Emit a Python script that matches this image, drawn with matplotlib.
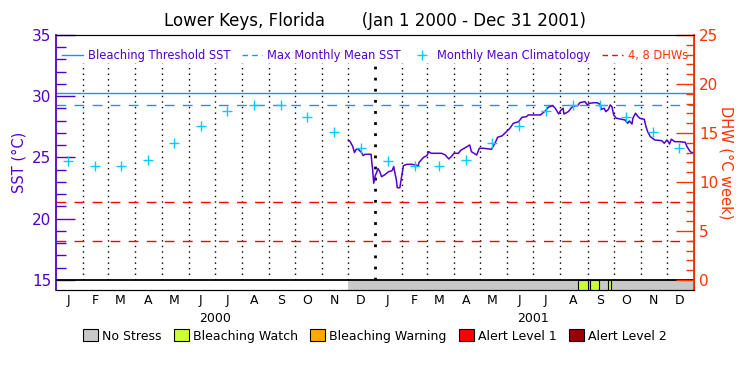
import numpy as np
import pandas as pd
import matplotlib
matplotlib.use("Agg")
import matplotlib.pyplot as plt
from matplotlib.lines import Line2D
from matplotlib.patches import Patch

# Data
month_letters = ["J", "F", "M", "A", "M", "J", "J", "A", "S", "O", "N", "D"]
years = ["2000", "2001"]
clim_monthly = [24.75, 24.28, 24.28, 24.83, 26.22, 27.6, 28.78, 29.3, 29.3, 28.3, 27.05, 25.77]
mmm_sst = 29.25
threshold_sst = 30.25
dhw_levels = [4, 8]

# SST series: days since 2000-01-01, value in deg C
sst_days = [335, 337, 340, 342, 344, 346, 350, 352, 354, 361, 362, 363, 364, 366, 367,
            369, 371, 373, 377, 381, 385, 387, 388, 390, 391, 394, 395, 397, 398, 402,
            408, 415, 416, 421, 425, 427, 430, 442, 446, 450, 453, 456, 461, 464, 469,
            474, 476, 479, 482, 485, 490, 499, 503, 506, 511, 516, 520, 524, 530, 534,
            539, 541, 555, 561, 564, 569, 572, 576, 578, 581, 582, 587, 591, 595, 598,
            600, 606, 609, 611, 616, 620, 623, 625, 628, 630, 633, 635, 637, 639, 642,
            648, 652, 655, 657, 660, 661, 664, 667, 669, 674, 676, 678, 681, 686, 694,
            697, 700, 703, 705, 709, 714, 721, 723, 726, 728, 731]
sst_vals = [26.43, 26.3, 25.9, 25.4, 25.67, 25.7, 25.4, 25.15, 25.26, 25.26, 24.5, 23.84,
            22.9, 23.57, 23.7, 24.1, 23.84, 23.43, 23.6, 23.84, 23.92, 24.25, 23.84, 23.16,
            22.53, 22.53, 23.02, 23.84, 24.33, 24.44, 24.44, 24.33, 24.6, 25.0, 25.15, 25.47,
            25.34, 25.34, 25.2, 24.88, 25.07, 25.34, 25.34, 25.6, 25.8, 26.02, 25.47, 25.34,
            25.2, 25.75, 25.75, 25.67, 26.16, 26.65, 26.76, 27.1, 27.38, 27.79, 27.92, 28.28,
            28.33, 28.47, 28.47, 28.82, 29.1, 29.23, 29.02, 28.55, 28.82, 29.02, 28.55, 28.74,
            29.1, 29.23, 29.23, 29.47, 29.56, 29.29, 29.42, 29.47, 29.47, 29.37, 28.93, 29.02,
            28.74, 28.93, 29.29, 29.15, 28.47, 28.2, 28.12, 28.06, 27.79, 27.98, 27.73, 28.2,
            28.61, 28.33, 28.2, 28.12, 27.52, 27.1, 26.7, 26.43, 26.37, 26.16, 26.43, 26.1,
            26.49, 26.29, 26.29, 26.24, 25.88, 25.55, 25.4, 25.4]

# stress periods (start, end)
no_stress_period = ("2000-12-01", "2002-01-01")
watch_periods = [("2001-08-21", "2001-09-02"), ("2001-09-04", "2001-09-14"),
                 ("2001-09-24", "2001-09-28")]

purple = "#5500cc"
orange = "#ff3300"
cyan = "#00ccff"
blue = "#1e90ff"

start = pd.Timestamp("2000-01-01")
end = pd.Timestamp("2002-01-01")
sst_dates = start + pd.to_timedelta(sst_days, unit="D")
month_starts = pd.date_range("2000-01-01", "2001-12-01", freq="MS")
month_mids = month_starts + pd.Timedelta(days=14)

fig = plt.figure(figsize=(7.5, 3.75), dpi=100)
ax = fig.add_axes([0.0747, 0.2267, 0.8506, 0.68])
ymin, ymax = 14.18, 35
ax.set_xlim(start, end)
ax.set_ylim(ymin, ymax)

# month grid lines
for d in month_starts[1:]:
    lw = 2 if d == pd.Timestamp("2001-01-01") else 1
    ax.plot([d, d], [15, 32.7], color="black", ls=(0, (1, 3)), lw=lw, zorder=1)

# reference lines
ax.axhline(threshold_sst, color=blue, lw=1)
ax.axhline(mmm_sst, color=blue, lw=1, ls=(0, (7, 6)))
for lvl in dhw_levels:
    ax.axhline(15 + lvl * 0.8, color="red", lw=1, ls=(0, (7, 6)))

# stress bar
ax.fill_between(pd.to_datetime(list(no_stress_period)), ymin, 15, color="#c8c8c8", lw=0, zorder=2)
for s, e in watch_periods:
    ax.fill_between(pd.to_datetime([s, e]), ymin, 15, facecolor="#ccff33",
                    edgecolor="black", lw=0.8, zorder=3)
ax.axhline(15, color="black", lw=1.3, zorder=4)

# data
ax.plot(sst_dates, sst_vals, color=purple, lw=1.1, zorder=5)
clim_x = list(month_mids)
clim_y = clim_monthly * 2
ax.plot(clim_x, clim_y, ls="none", marker="+", ms=7.5, mew=1.0, color=cyan, zorder=6)

# axes styling
ax.set_xticks(month_mids)
ax.set_xticklabels(month_letters * 2, fontsize=9)
ax.tick_params(axis="x", length=0, pad=3)
ax.set_yticks([15, 20, 25, 30, 35])
ax.set_yticks(np.arange(15, 35, 1), minor=True)
ax.tick_params(axis="y", which="major", direction="in", length=14, width=1,
               color=purple, labelcolor=purple, labelsize=11)
ax.tick_params(axis="y", which="minor", direction="in", length=7, width=1, color=purple)
ax.spines["left"].set_color(purple)
ax.spines["left"].set_linewidth(1.3)
ax.set_ylabel("SST (°C)", color=purple, fontsize=10.5, labelpad=4)

for i, yr in enumerate(years):
    ax.text(pd.Timestamp(f"{yr}-07-01"), -0.11, yr, transform=ax.get_xaxis_transform(),
            ha="center", va="center", fontsize=9)

ax2 = ax.twinx()
ax2.set_ylim((ymin - 15) * 1.25, (ymax - 15) * 1.25)
ax2.set_yticks([0, 5, 10, 15, 20, 25])
ax2.set_yticks(np.arange(0, 25, 1), minor=True)
ax2.tick_params(axis="y", which="major", direction="in", length=13, width=1,
                color=orange, labelcolor=orange, labelsize=11)
ax2.tick_params(axis="y", which="minor", direction="in", length=6, width=1, color=orange)
ax2.spines["right"].set_color(orange)
ax2.spines["right"].set_linewidth(1.3)
ax2.spines["left"].set_visible(False)
ax2.set_ylabel("DHW (°C week)", color=orange, fontsize=10.5, rotation=-90, labelpad=11)

# top legend
handles = [Line2D([], [], color=blue, lw=1),
           Line2D([], [], color=blue, lw=1, ls=(0, (4, 3))),
           Line2D([], [], ls="none", marker="+", ms=7, mew=1.0, color=cyan),
           Line2D([], [], color="red", lw=1, ls=(0, (4, 3)))]
labels = ["Bleaching Threshold SST", "Max Monthly Mean SST",
          "Monthly Mean Climatology", "4, 8 DHWs"]
leg = ax2.legend(handles, labels, loc="upper center", bbox_to_anchor=(0.5, 0.985),
                 ncol=4, frameon=False, fontsize=8.3, handlelength=1.8, handletextpad=0.4,
                 columnspacing=1.0)
for t, c in zip(leg.get_texts(), [purple, purple, purple, orange]):
    t.set_color(c)

# stress legend
stress_labels = ["No Stress", "Bleaching Watch", "Bleaching Warning", "Alert Level 1", "Alert Level 2"]
stress_colors = ["#c8c8c8", "#ccff33", "#ffaa00", "#ff0000", "#990000"]
patches = [Patch(facecolor=c, edgecolor="black", lw=0.8) for c in stress_colors]
fig.legend(patches, stress_labels, loc="center", bbox_to_anchor=(0.5, 0.104), ncol=5,
           frameon=False, fontsize=9, handlelength=1.2, handleheight=1.1,
           handletextpad=0.3, columnspacing=1.0)

fig.text(0.5, 0.945, "Lower Keys, Florida       (Jan 1 2000 - Dec 31 2001)",
         ha="center", va="center", fontsize=12)

fig.savefig("out.png", dpi=100)
